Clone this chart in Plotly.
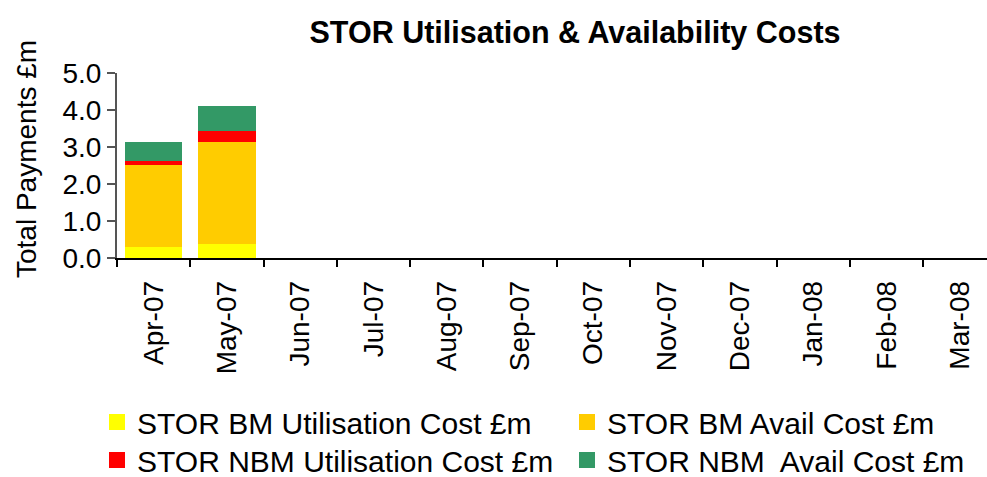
import plotly.graph_objects as go

months = ["Apr-07", "May-07", "Jun-07", "Jul-07", "Aug-07", "Sep-07",
          "Oct-07", "Nov-07", "Dec-07", "Jan-08", "Feb-08", "Mar-08"]
bm_util = [0.34, 0.42] + [None] * 10
bm_avail = [2.24, 2.76] + [None] * 10
nbm_util = [0.09, 0.31] + [None] * 10
nbm_avail = [0.42, 0.57] + [None] * 10

names = ["STOR BM Utilisation Cost £m", "STOR BM Avail Cost £m",
         "STOR NBM Utilisation Cost £m", "STOR NBM  Avail Cost £m"]
values = [bm_util, bm_avail, nbm_util, nbm_avail]
colors = ["#FFFF00", "#FFCC00", "#FF0000", "#339966"]
legend_ids = ["legend", "legend2", "legend3", "legend4"]

FONT = "Liberation Sans, Arial, sans-serif"
fig = go.Figure()
for name, vals, col, lg in zip(names, values, colors, legend_ids):
    fig.add_trace(go.Bar(x=months, y=vals, name=name, width=0.725,
                         marker=dict(color=col, line=dict(color=col, width=4)),
                         legend=lg))

W, H = 987, 477
leg_pos = [(97, 396), (567, 396), (97, 434), (567, 434)]
legends = {}
for lg, (lx, ly) in zip(legend_ids, leg_pos):
    legends[lg] = dict(orientation="h", x=lx / W, xref="container", y=1 - ly / H,
                       yref="container", xanchor="left", yanchor="top",
                       font=dict(size=30, family=FONT), bgcolor="rgba(0,0,0,0)")

fig.update_layout(
    barmode="stack",
    width=W, height=H,
    margin=dict(l=117, r=0, t=73, b=219, autoexpand=False),
    plot_bgcolor="white", paper_bgcolor="white",
    font=dict(family=FONT, color="black", size=24),
    title=dict(text="<b>STOR Utilisation & Availability Costs</b>",
               font=dict(size=30.5, family=FONT, color="black"),
               x=575 / W, xref="container", xanchor="center",
               y=1 - 32 / H, yref="container", yanchor="middle"),
    showlegend=True,
    bargap=0.22,
    **legends,
)
fig.update_xaxes(type="category", range=[-0.5, 11.37], showline=True, automargin=False,
                 linecolor="black", linewidth=1.5, ticks="outside", tickson="boundaries",
                 ticklen=7, tickcolor="black", tickwidth=1.5, tickangle=-90,
                 tickfont=dict(size=28, family=FONT), showgrid=False,
                 ticklabelstandoff=10)
fig.update_yaxes(range=[0, 5], dtick=1, tickformat=".1f", showline=True, automargin=False,
                 linecolor="#555555", linewidth=2, ticks="outside", ticklen=8,
                 tickcolor="#555555", tickwidth=2, showgrid=False, zeroline=False,
                 tickfont=dict(size=28, family=FONT))
fig.add_annotation(text="Total Payments £m", textangle=-90, xref="paper", yref="paper",
                   x=-(117 - 26) / 870, y=(258 - 159) / 185, xanchor="center",
                   yanchor="middle", showarrow=False, font=dict(size=28, family=FONT))

fig.write_html("out.html", config={"displayModeBar": False},
               post_script="document.body.style.margin='0';document.body.style.overflow='hidden';")
